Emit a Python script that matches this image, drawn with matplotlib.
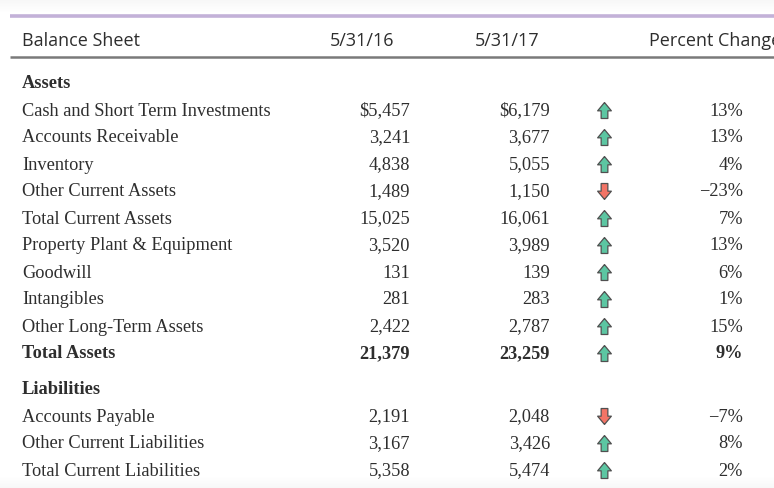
import numpy as np
import matplotlib.pyplot as plt
from matplotlib.path import Path

# table contents
header = ["Balance Sheet", "5/31/16", "5/31/17", "Percent Change"]

asset_items = ["Cash and Short Term Investments", "Accounts Receivable", "Inventory",
               "Other Current Assets", "Total Current Assets", "Property Plant & Equipment",
               "Goodwill", "Intangibles", "Other Long-Term Assets", "Total Assets"]
asset_2016 = ["$5,457", "3,241", "4,838", "1,489", "15,025", "3,520", "131", "281", "2,422", "21,379"]
asset_2017 = ["$6,179", "3,677", "5,055", "1,150", "16,061", "3,989", "139", "283", "2,787", "23,259"]
asset_pct = [13, 13, 4, -23, 7, 13, 6, 1, 15, 9]

liab_items = ["Accounts Payable", "Other Current Liabilities", "Total Current Liabilities"]
liab_2016 = ["2,191", "3,167", "5,358"]
liab_2017 = ["2,048", "3,426", "5,474"]
liab_pct = [-7, 8, 2]

W, H = 774, 488
fig = plt.figure(figsize=(W / 100, H / 100), dpi=100)
ax = fig.add_axes([0, 0, 1, 1])

# faint bands at top and bottom
top = np.linspace(0.94, 1.0, 20).reshape(-1, 1)
ax.imshow(top, cmap='gray', vmin=0, vmax=1, extent=(0, W, 13, 0), aspect='auto', alpha=0.5)
bot = np.linspace(1.0, 0.94, 20).reshape(-1, 1)
ax.imshow(bot, cmap='gray', vmin=0, vmax=1, extent=(0, W, H, 476), aspect='auto', alpha=0.5)
ax.set_xlim(0, W)
ax.set_ylim(H, 0)
ax.axis('off')

ax.plot([10, W], [16, 16], color='#c3b1d8', lw=2.6, solid_capstyle='butt')
ax.plot([10, W], [56.5, 56.5], color='#7a7a7a', lw=1.8, solid_capstyle='butt')

sans = 'Open Sans'
serif = 'Liberation Serif'
txt = '#2e2e2e'
x_label, x_c1, x_c2, x_arrow, x_pct = 22, 410, 550, 604, 743

hy = 41
ax.text(x_label, hy, header[0], family=sans, fontsize=13, color=txt, va='center')
ax.text(330, hy, header[1], family=sans, fontsize=13, color=txt, va='center')
ax.text(475, hy, header[2], family=sans, fontsize=13, color=txt, va='center')
ax.text(649, hy, header[3], family=sans, fontsize=13, color=txt, va='center')

up = Path([(0, 0.5), (0.43, -0.02), (0.21, -0.02), (0.21, -0.5), (-0.21, -0.5),
           (-0.21, -0.02), (-0.43, -0.02), (0, 0.5)])
down = Path([(x, -y) for x, y in up.vertices])


def pct_text(p):
    return ("\u2212" if p < 0 else "") + str(abs(p)) + "%"


def draw_rows(items, v16, v17, pct, y0, bold_last):
    for i, name in enumerate(items):
        y = y0 + i * 27
        w = 'bold' if (bold_last and i == len(items) - 1) else 'normal'
        ax.text(x_label, y, name, family=serif, fontsize=13.2, color=txt, va='center', weight=w)
        ax.text(x_c1, y, v16[i], family=serif, fontsize=13.2, color=txt, va='center', ha='right', weight=w)
        ax.text(x_c2, y, v17[i], family=serif, fontsize=13.2, color=txt, va='center', ha='right', weight=w)
        ax.text(x_pct, y, pct_text(pct[i]), family=serif, fontsize=13.2, color=txt, va='center', ha='right', weight=w)
        if pct[i] >= 0:
            ax.plot(x_arrow, y - 1.5, marker=up, markersize=11.5, mfc='#5cc6a2', mec='#505050', mew=0.9)
        else:
            ax.plot(x_arrow, y - 1.5, marker=down, markersize=11.5, mfc='#f27466', mec='#505050', mew=0.9)


ax.text(x_label, 83, "Assets", family=serif, fontsize=13.2, color=txt, va='center', weight='bold')
draw_rows(asset_items, asset_2016, asset_2017, asset_pct, 111, True)
ax.text(x_label, 389, "Liabilities", family=serif, fontsize=13.2, color=txt, va='center', weight='bold')
draw_rows(liab_items, liab_2016, liab_2017, liab_pct, 417, False)

fig.savefig('out.png', dpi=100)
